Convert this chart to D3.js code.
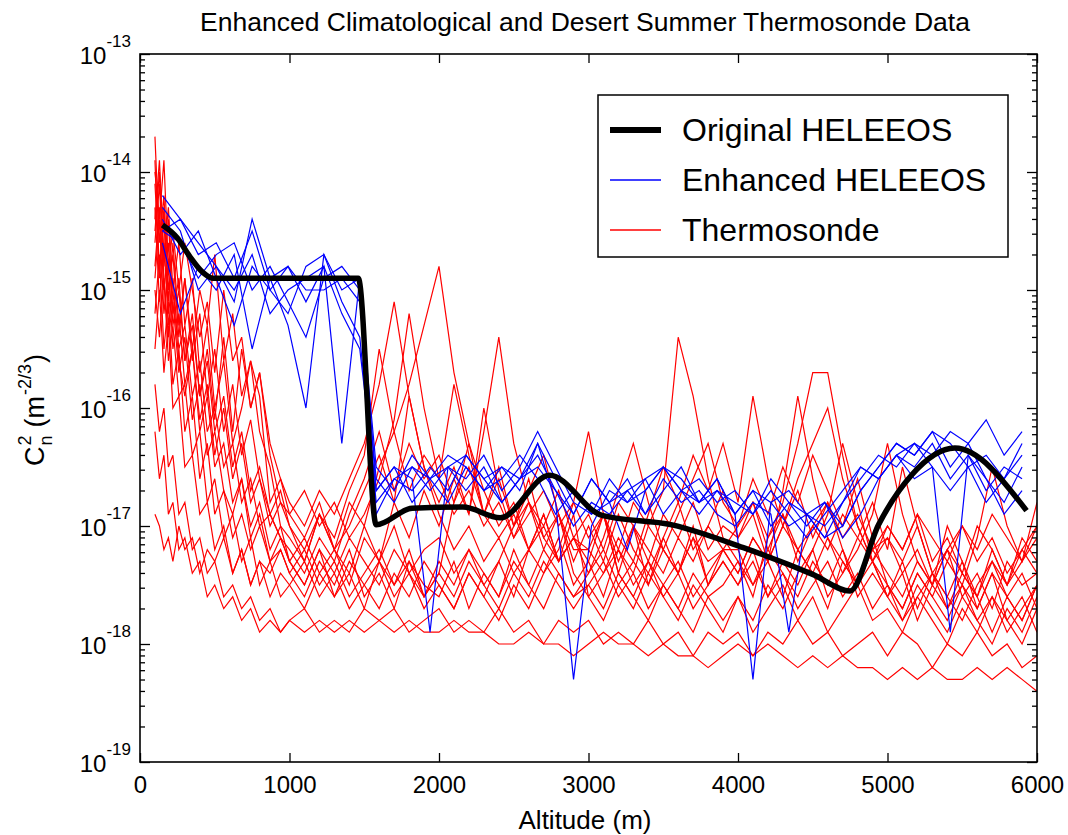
<!DOCTYPE html>
<html>
<head>
<meta charset="utf-8">
<script src="https://cdn.jsdelivr.net/npm/d3@7"></script>
<style>
  html, body { margin: 0; padding: 0; background: #ffffff; }
  svg { display: block; font-family: "Liberation Sans", Arial, sans-serif; }
</style>
</head>
<body>
<svg id="chart" width="1068" height="835"></svg>
<script>
// ---------------- DATA ----------------
const chartTitle = "Enhanced Climatological and Desert Summer Thermosonde Data";
const xTicks = [0, 1000, 2000, 3000, 4000, 5000, 6000];
const yExponents = [-19, -18, -17, -16, -15, -14, -13];
const legendLabels = ["Original HELEEOS", "Enhanced HELEEOS", "Thermosonde"];

// Original HELEEOS (altitude m, log10 Cn2)
const originalAlt = [150, 250, 330, 420, 490, 1460, 1580, 1820, 2160, 2410, 2740, 3090, 3560, 4050, 4500, 4750, 4940, 5160, 5450, 5930];
const originalLog = [-14.45, -14.56, -14.71, -14.85, -14.90, -14.90, -16.99, -16.85, -16.84, -16.93, -16.57, -16.91, -16.99, -17.19, -17.41, -17.55, -16.99, -16.57, -16.34, -16.87];

// Enhanced HELEEOS profiles (log10 Cn2)
const enhancedAlt = [150,270,390,510,630,750,870,990,1110,1230,1350,1470,1580,1700,1820,1940,2060,2180,2300,2420,2540,2660,2780,2900,3020,3140,3260,3380,3500,3620,3740,3860,3980,4100,4220,4340,4460,4580,4700,4820,4940,5060,5180,5300,5420,5540,5660,5780,5900];
const enhanced1 = [-14.2,-14.4,-14.6,-14.8,-15.1,-14.4,-14.9,-15.3,-16.0,-14.7,-15.0,-14.9,
  -16.7,-16.5,-16.6,-17.9,-16.5,-16.4,-16.6,-16.5,-16.7,-16.3,-16.6,-16.9,-16.6,-16.8,-16.7,-16.6,-16.5,-16.7,-16.8,-16.6,-16.9,-16.7,-16.8,-17.0,-16.9,-17.1,-17.0,-16.7,-16.5,-16.3,-16.4,-16.2,-16.3,-16.5,-16.4,-16.6,-16.3];
const enhanced2 = [-14.5,-14.4,-14.7,-14.6,-14.9,-14.5,-15.0,-14.8,-15.1,-14.8,-16.3,-14.9,
  -16.9,-16.6,-16.5,-16.6,-16.4,-16.5,-16.7,-16.5,-16.6,-16.3,-16.8,-18.3,-17.0,-16.7,-16.8,-16.6,-16.9,-16.7,-16.6,-16.8,-16.7,-16.9,-16.6,-16.8,-17.0,-16.8,-17.1,-16.9,-16.6,-16.4,-16.5,-16.3,-16.6,-16.4,-16.7,-16.5,-16.6];
const enhanced3 = [-14.6,-15.2,-14.8,-15.0,-14.7,-15.5,-14.9,-14.8,-15.0,-15.0,-14.9,-15.1,
  -16.6,-16.8,-16.5,-16.7,-16.5,-16.6,-16.4,-16.7,-16.5,-16.2,-16.5,-16.8,-16.9,-16.6,-16.8,-16.7,-16.5,-16.6,-16.8,-16.7,-16.9,-18.3,-16.8,-16.7,-16.9,-16.8,-17.0,-16.7,-16.5,-16.3,-16.4,-16.2,-16.5,-16.3,-16.6,-16.8,-16.5];
const enhanced4 = [-14.4,-14.7,-14.5,-14.9,-15.3,-14.8,-15.0,-15.2,-14.8,-14.7,-15.1,-15.4,
  -16.8,-16.6,-16.7,-16.5,-16.7,-16.4,-16.6,-16.8,-16.6,-16.4,-16.7,-17.0,-16.8,-16.9,-16.7,-16.9,-16.6,-16.8,-16.7,-16.9,-17.0,-16.8,-16.9,-17.9,-16.9,-17.1,-16.8,-16.6,-16.4,-16.5,-16.3,-16.4,-16.2,-16.3,-16.1,-16.4,-16.2];
const enhanced5 = [-14.5,-14.6,-14.9,-14.7,-14.6,-15.0,-14.8,-15.1,-15.4,-14.9,-14.8,-15.0,
  -16.5,-16.7,-16.4,-16.6,-16.8,-16.5,-16.7,-16.6,-16.4,-16.6,-16.9,-16.7,-16.9,-16.8,-16.6,-16.9,-16.7,-16.5,-16.8,-16.6,-16.9,-16.7,-17.0,-16.8,-16.9,-17.0,-16.8,-16.5,-16.6,-16.4,-16.3,-16.5,-17.9,-16.4,-16.6,-16.9,-16.7];
const enhanced6 = [-14.3,-14.5,-15.0,-14.8,-15.0,-14.7,-15.2,-15.0,-14.9,-14.8,-15.2,-15.5,
  -16.7,-16.5,-16.8,-16.6,-16.5,-16.7,-16.5,-16.8,-16.6,-16.5,-16.7,-16.9,-16.6,-16.8,-17.2,-16.7,-16.5,-16.7,-16.9,-16.7,-16.8,-16.9,-16.7,-16.9,-17.1,-16.9,-16.7,-16.5,-16.6,-16.4,-16.6,-16.5,-16.7,-16.5,-16.8,-16.6,-16.4];

// Thermosonde profiles (log10 Cn2)
const thermoAlt = [100,130,160,190,220,260,300,350,400,450,500,560,620,680,740,800,870,940,
  1000,1100,1200,1300,1400,1500,1600,1700,1800,1900,
  2000,2100,2200,2300,2400,2500,2600,2700,2800,2900,
  3000,3100,3200,3300,3400,3500,3600,3700,3800,3900,
  4000,4100,4200,4300,4400,4500,4600,4700,4800,4900,
  5000,5100,5200,5300,5400,5500,5600,5700,5800,5900,6000];
const thermo01 = [-13.7,-14.6,-14.2,-15.0,-14.7,-15.4,-14.9,-15.5,-15.0,-15.3,-14.7,-15.6,-15.2,-15.9,-15.6,-16.2,-16.5,-17.0,
  -17.1,-17.3,-16.9,-17.2,-16.8,-17.0,-16.5,-16.2,-15.8,-15.3,
  -14.8,-15.7,-16.3,-16.7,-17.0,-16.8,-17.2,-16.9,-17.3,-17.1,
  -17.3,-16.9,-17.4,-17.0,-17.5,-17.1,-17.4,-17.0,-17.5,-17.2,
  -17.2,-17.5,-17.3,-17.6,-17.2,-17.4,-17.7,-17.3,-17.5,-17.2,
  -17.4,-17.6,-17.3,-17.5,-17.2,-17.6,-17.4,-17.7,-17.3,-17.5,-17.4];
const thermo02 = [-14.0,-14.4,-13.9,-14.8,-14.5,-15.0,-14.6,-15.0,-15.4,-15.1,-15.7,-15.0,-15.6,-15.4,-16.0,-15.7,-16.3,-16.6,
  -16.8,-17.0,-16.7,-16.9,-16.6,-16.3,-15.8,-15.1,-15.9,-16.5,
  -16.8,-16.5,-16.9,-16.2,-15.4,-16.3,-16.8,-17.0,-16.7,-17.1,
  -16.9,-17.2,-16.8,-17.0,-17.3,-16.9,-17.1,-16.8,-17.2,-17.0,
  -17.1,-16.8,-17.2,-16.9,-17.3,-17.0,-17.2,-16.9,-17.1,-17.3,
  -17.0,-17.2,-16.9,-17.3,-17.1,-17.4,-17.0,-17.2,-17.5,-17.1,-17.3];
const thermo03 = [-14.3,-15.1,-14.6,-15.3,-15.0,-15.6,-15.9,-15.5,-16.2,-15.9,-16.5,-16.3,-16.8,-16.6,-17.0,-16.8,-17.2,-17.0,
  -17.3,-17.1,-17.4,-17.2,-17.5,-17.1,-17.3,-17.0,-17.4,-17.2,
  -17.1,-17.4,-17.2,-17.5,-17.3,-17.6,-17.2,-17.4,-17.1,-17.5,
  -17.3,-17.6,-17.2,-17.4,-17.0,-16.7,-15.4,-15.9,-16.6,-17.1,
  -17.3,-17.5,-17.2,-17.4,-17.6,-17.3,-17.5,-17.2,-17.6,-17.4,
  -17.6,-17.3,-17.7,-17.4,-17.6,-17.8,-17.5,-17.3,-17.6,-17.4,-17.7];
const thermo04 = [-14.6,-14.1,-14.9,-15.4,-15.1,-15.7,-15.4,-16.1,-15.8,-16.4,-16.2,-16.7,-16.9,-16.6,-17.1,-16.9,-17.3,-17.2,
  -17.4,-17.6,-17.3,-17.5,-17.2,-17.6,-17.4,-17.7,-17.3,-17.5,
  -17.6,-17.3,-17.7,-17.4,-17.6,-17.2,-17.5,-17.7,-17.4,-17.6,
  -17.5,-17.7,-17.4,-17.6,-17.3,-17.5,-17.7,-17.4,-17.6,-17.5,
  -17.3,-17.6,-17.1,-16.8,-16.3,-15.7,-15.7,-16.4,-17.0,-17.3,
  -17.5,-17.7,-17.4,-17.6,-17.8,-17.5,-17.7,-17.4,-17.8,-17.6,-17.9];
const thermo05 = [-14.9,-14.4,-15.2,-14.8,-15.5,-15.2,-15.8,-15.5,-16.1,-15.8,-16.4,-16.0,-16.6,-16.3,-16.8,-16.6,-17.0,-16.8,
  -17.0,-17.2,-16.9,-17.1,-16.7,-16.4,-15.5,-16.2,-16.7,-16.4,
  -16.6,-15.8,-16.4,-16.9,-17.1,-16.9,-17.2,-17.0,-17.3,-17.1,
  -17.2,-16.9,-17.3,-17.0,-17.2,-17.4,-17.1,-17.3,-17.0,-17.2,
  -17.4,-17.1,-17.3,-17.0,-17.2,-17.4,-17.1,-17.3,-17.5,-17.2,
  -17.1,-17.3,-17.0,-17.4,-17.2,-17.0,-17.3,-17.1,-17.4,-17.2,-17.0];
const thermo06 = [-15.2,-14.7,-15.5,-15.1,-15.8,-15.5,-16.2,-15.9,-16.6,-16.3,-16.9,-16.7,-17.1,-16.9,-17.2,-17.0,-17.3,-17.1,
  -17.3,-17.5,-17.2,-17.4,-17.1,-17.3,-17.5,-17.2,-17.4,-17.6,
  -17.3,-17.5,-17.2,-17.4,-17.6,-17.3,-17.5,-17.2,-17.4,-17.6,
  -17.4,-17.2,-17.5,-17.3,-16.9,-16.5,-16.8,-16.4,-16.7,-16.3,
  -16.8,-15.9,-16.6,-17.0,-16.7,-17.1,-16.8,-17.2,-17.5,-17.3,
  -17.6,-17.4,-17.8,-17.5,-17.7,-17.4,-17.6,-17.9,-17.6,-17.8,-17.5];
const thermo07 = [-15.5,-15.0,-15.7,-15.3,-16.0,-15.9,-16.5,-16.4,-16.9,-16.8,-17.2,-17.0,-17.4,-17.2,-17.5,-17.3,-17.6,-17.4,
  -17.5,-17.7,-17.4,-17.6,-17.3,-17.5,-17.7,-17.4,-17.6,-17.3,
  -17.5,-17.7,-17.4,-17.6,-17.8,-17.5,-17.7,-17.4,-17.2,-16.8,
  -16.2,-16.9,-17.4,-17.6,-17.8,-17.5,-17.7,-17.9,-17.6,-17.8,
  -17.6,-17.9,-17.7,-17.5,-17.8,-17.6,-17.9,-17.7,-17.5,-17.8,
  -17.7,-17.9,-17.6,-17.8,-18.0,-17.7,-17.9,-17.6,-17.8,-18.0,-17.7];
const thermo08 = [-15.8,-16.2,-16.0,-16.5,-16.4,-16.9,-16.8,-17.2,-17.1,-17.4,-17.3,-17.6,-17.5,-17.7,-17.6,-17.8,-17.7,-17.9,
  -17.8,-17.9,-17.8,-17.9,-17.8,-17.9,-17.8,-17.9,-17.8,-17.9,
  -17.9,-17.8,-17.9,-17.9,-18.0,-18.0,-17.9,-18.0,-18.0,-18.1,
  -18.0,-17.9,-18.0,-18.0,-18.1,-18.0,-18.1,-18.1,-18.2,-18.1,
  -18.0,-18.1,-18.0,-18.1,-18.2,-18.1,-18.2,-18.1,-18.2,-18.2,
  -18.3,-18.2,-18.3,-18.2,-18.3,-18.3,-18.2,-18.3,-18.2,-18.3,-18.4];
const thermo09 = [-14.1,-14.8,-14.4,-15.2,-14.9,-15.5,-15.3,-15.9,-15.6,-16.2,-16.0,-16.5,-16.3,-16.8,-16.6,-17.0,-16.9,-17.1,
  -17.2,-17.4,-17.1,-17.3,-16.9,-16.6,-16.2,-16.7,-16.3,-16.6,
  -16.4,-16.8,-16.5,-16.9,-16.6,-17.0,-16.8,-17.1,-16.9,-17.2,
  -17.2,-17.4,-17.1,-17.3,-17.5,-17.2,-17.4,-17.1,-17.3,-17.2,
  -17.4,-17.1,-17.3,-16.7,-15.9,-16.6,-17.1,-17.4,-17.2,-16.9,
  -16.3,-16.9,-17.3,-17.5,-17.2,-17.4,-17.6,-17.3,-17.5,-17.2,-17.4];
const thermo10 = [-14.5,-14.0,-14.8,-14.4,-15.2,-14.9,-15.6,-15.3,-15.9,-15.6,-16.2,-15.9,-16.5,-16.2,-16.7,-16.5,-16.9,-17.1,
  -17.3,-17.5,-17.2,-17.6,-17.4,-17.7,-17.3,-17.5,-17.2,-17.6,
  -17.4,-17.6,-17.3,-17.5,-17.7,-17.4,-17.6,-17.3,-17.5,-17.7,
  -17.5,-17.3,-17.6,-17.4,-17.7,-17.5,-17.3,-17.6,-17.4,-17.2,
  -17.0,-16.6,-16.9,-16.5,-16.8,-16.4,-16.7,-17.0,-16.6,-17.1,
  -17.5,-17.7,-17.4,-17.6,-17.3,-17.5,-17.1,-16.5,-17.0,-17.3,-16.8];
const thermo11 = [-16.2,-16.6,-16.4,-16.9,-16.8,-17.2,-17.1,-17.4,-17.3,-17.6,-17.5,-17.7,-17.6,-17.8,-17.7,-17.9,-17.8,-17.9,
  -17.8,-17.7,-17.9,-17.8,-17.9,-17.7,-17.8,-17.7,-17.9,-17.8,
  -17.7,-17.9,-17.8,-17.9,-17.7,-17.9,-17.8,-18.0,-17.8,-17.9,
  -17.8,-18.0,-17.9,-18.0,-17.8,-18.0,-17.9,-18.1,-17.9,-18.0,
  -17.9,-18.1,-17.9,-18.0,-17.8,-18.0,-17.9,-18.1,-18.0,-17.9,
  -18.1,-17.9,-18.0,-18.2,-18.0,-18.1,-17.9,-18.1,-18.0,-18.2,-18.1];
const thermo12 = [-14.8,-14.3,-15.0,-14.6,-15.3,-15.0,-15.6,-15.2,-15.9,-15.5,-16.1,-15.4,-16.2,-15.5,-16.0,-15.7,-16.4,-16.8,
  -16.9,-16.7,-17.0,-16.8,-17.1,-16.9,-16.6,-16.1,-15.2,-16.0,
  -16.6,-16.9,-16.7,-17.0,-16.8,-17.1,-16.9,-16.7,-17.0,-16.8,
  -17.1,-16.9,-17.2,-16.8,-17.0,-17.2,-16.9,-16.6,-16.3,-16.8,
  -17.0,-16.8,-17.1,-16.9,-17.2,-17.0,-16.8,-17.1,-16.9,-17.2,
  -17.0,-17.2,-16.9,-17.1,-17.3,-17.0,-17.2,-16.9,-17.1,-17.3,-17.0];
const thermo13 = [-16.9,-17.0,-17.2,-17.1,-17.3,-17.0,-17.2,-17.1,-17.4,-17.2,-17.3,-17.1,-17.4,-17.2,-17.5,-17.3,-17.4,-17.2,
  -17.4,-17.2,-17.5,-17.3,-17.6,-17.4,-17.2,-17.5,-17.3,-17.6,
  -17.4,-16.8,-16.3,-16.9,-16.5,-17.0,-16.6,-17.1,-17.3,-16.9,
  -17.6,-17.4,-17.2,-17.5,-17.3,-17.6,-17.4,-17.7,-17.5,-17.3,
  -17.5,-17.3,-17.6,-17.4,-17.7,-17.5,-17.3,-17.6,-17.4,-17.7,
  -17.5,-17.8,-17.6,-17.4,-17.7,-17.5,-17.8,-17.6,-17.9,-17.7,-17.5];
const thermo14 = [-15.0,-15.4,-14.9,-15.6,-15.3,-15.9,-15.8,-16.4,-16.2,-16.8,-16.6,-17.1,-16.9,-17.3,-17.1,-17.5,-17.3,-17.6,
  -17.5,-17.3,-17.6,-17.4,-17.7,-17.5,-17.3,-17.6,-17.4,-17.7,
  -17.5,-17.7,-17.4,-17.6,-17.3,-17.0,-16.7,-16.4,-16.9,-17.4,
  -17.6,-17.8,-17.5,-17.7,-17.4,-17.6,-17.8,-17.5,-17.7,-17.9,
  -17.6,-17.8,-17.5,-17.7,-17.4,-17.2,-16.9,-16.3,-16.8,-17.3,
  -17.6,-17.8,-17.5,-17.7,-17.9,-17.6,-17.8,-18.0,-17.7,-17.9,-17.6];
const thermo15 = [-13.9,-14.9,-14.3,-15.1,-14.6,-15.3,-14.9,-15.6,-15.2,-15.9,-15.5,-16.2,-15.8,-16.4,-16.1,-16.6,-16.9,-16.7,
  -17.0,-17.3,-16.9,-17.2,-17.4,-17.0,-17.3,-16.8,-17.1,-16.7,
  -17.0,-16.6,-16.9,-16.0,-16.7,-17.1,-16.8,-17.2,-16.9,-17.3,
  -17.0,-17.3,-16.9,-17.2,-17.4,-17.1,-16.8,-17.2,-17.0,-16.7,
  -17.1,-16.9,-17.3,-17.0,-16.6,-16.3,-16.0,-16.6,-17.0,-17.3,
  -17.1,-17.4,-17.2,-17.5,-17.0,-17.3,-17.6,-17.2,-17.5,-17.3,-17.1];
const thermo16 = [-14.4,-13.9,-14.7,-14.3,-15.0,-14.6,-15.3,-14.9,-15.7,-15.3,-16.0,-15.6,-16.3,-16.0,-15.6,-15.9,-16.8,-16.6,
  -16.9,-17.1,-16.8,-17.2,-17.0,-16.7,-16.4,-16.8,-15.9,-16.5,
  -16.9,-17.2,-17.0,-17.3,-17.1,-17.4,-17.2,-16.9,-17.3,-17.1,
  -17.4,-17.1,-16.7,-16.3,-16.8,-17.2,-17.4,-17.1,-17.5,-17.3,
  -17.5,-17.2,-17.6,-17.3,-17.5,-17.2,-17.6,-17.4,-17.1,-16.8,
  -17.2,-16.5,-17.0,-17.4,-17.6,-17.3,-17.7,-17.4,-17.6,-17.8,-17.5];

const enhancedSeries = [enhanced1, enhanced2, enhanced3, enhanced4, enhanced5, enhanced6];
const thermoSeries = [thermo01, thermo02, thermo03, thermo04, thermo05, thermo06, thermo07, thermo08,
                      thermo09, thermo10, thermo11, thermo12, thermo13, thermo14, thermo15, thermo16];

// ---------------- CHART ----------------
const svg = d3.select("#chart");
const P = { left: 140, right: 1037, top: 54, bottom: 762 };

svg.append("rect").attr("width", 1068).attr("height", 835).attr("fill", "#ffffff");

const x = d3.scaleLinear().domain([0, 6000]).range([P.left, P.right]);
const y = d3.scaleLog().domain([1e-19, 1e-13]).range([P.bottom, P.top]);

svg.append("defs").append("clipPath").attr("id", "plotClip")
  .append("rect").attr("x", P.left).attr("y", P.top)
  .attr("width", P.right - P.left).attr("height", P.bottom - P.top);

const plot = svg.append("g").attr("clip-path", "url(#plotClip)");

const toPoints = (alts, logs) => alts.map((a, i) => [a, Math.pow(10, logs[i])]);
const line = d3.line().x(d => x(d[0])).y(d => y(d[1]));
const smoothLine = d3.line().x(d => x(d[0])).y(d => y(d[1])).curve(d3.curveMonotoneX);

plot.selectAll("path.thermo").data(thermoSeries).enter().append("path")
  .attr("class", "thermo")
  .attr("d", s => line(toPoints(thermoAlt, s)))
  .attr("fill", "none").attr("stroke", "#ff0000").attr("stroke-width", 1.2)
  .attr("stroke-linejoin", "miter");

plot.selectAll("path.enh").data(enhancedSeries).enter().append("path")
  .attr("class", "enh")
  .attr("d", s => line(toPoints(enhancedAlt, s)))
  .attr("fill", "none").attr("stroke", "#0000ff").attr("stroke-width", 1.2);

plot.append("path")
  .attr("d", smoothLine(toPoints(originalAlt, originalLog)))
  .attr("fill", "none").attr("stroke", "#000000").attr("stroke-width", 5.5)
  .attr("stroke-linejoin", "round");

// ---------------- AXES ----------------
const majorVals = yExponents.map(e => Math.pow(10, e));
const minorVals = [];
yExponents.slice(0, -1).forEach(e => {
  for (let m = 2; m <= 9; m++) minorVals.push(m * Math.pow(10, e));
});

function styleAxis(g) {
  g.selectAll("path.domain").remove();
  g.selectAll("line").attr("stroke", "#000").attr("stroke-width", 1.3);
}

const xAxisB = svg.append("g").attr("transform", `translate(0,${P.bottom})`)
  .call(d3.axisBottom(x).tickValues(xTicks).tickSize(-9).tickPadding(14).tickFormat(d3.format("d")));
styleAxis(xAxisB);
xAxisB.selectAll("text").attr("font-size", 24).attr("fill", "#000")
  .attr("font-family", "Liberation Sans, Arial, sans-serif");
const xAxisT = svg.append("g").attr("transform", `translate(0,${P.top})`)
  .call(d3.axisTop(x).tickValues(xTicks).tickSize(-9).tickFormat(""));
styleAxis(xAxisT);
const yAxisL = svg.append("g").attr("transform", `translate(${P.left},0)`)
  .call(d3.axisLeft(y).tickValues(majorVals).tickSize(-10).tickFormat(""));
styleAxis(yAxisL);
const yAxisLm = svg.append("g").attr("transform", `translate(${P.left},0)`)
  .call(d3.axisLeft(y).tickValues(minorVals).tickSize(-5).tickFormat(""));
styleAxis(yAxisLm);
const yAxisR = svg.append("g").attr("transform", `translate(${P.right},0)`)
  .call(d3.axisRight(y).tickValues(majorVals).tickSize(-10).tickFormat(""));
styleAxis(yAxisR);
const yAxisRm = svg.append("g").attr("transform", `translate(${P.right},0)`)
  .call(d3.axisRight(y).tickValues(minorVals).tickSize(-5).tickFormat(""));
styleAxis(yAxisRm);

svg.append("rect").attr("x", P.left).attr("y", P.top)
  .attr("width", P.right - P.left).attr("height", P.bottom - P.top)
  .attr("fill", "none").attr("stroke", "#000").attr("stroke-width", 1.6);

// y tick labels 10^e
const yLab = svg.append("g");
yExponents.forEach(e => {
  const t = yLab.append("text")
    .attr("x", 131).attr("y", y(Math.pow(10, e)) + 10)
    .attr("text-anchor", "end").attr("fill", "#000");
  t.append("tspan").attr("font-size", 24).text("10");
  t.append("tspan").attr("font-size", 17).attr("dy", -17).text(String(e));
});

// title
svg.append("text").attr("x", 585).attr("y", 31).attr("text-anchor", "middle")
  .attr("font-size", 26.5).attr("fill", "#000").text(chartTitle);

// x label
svg.append("text").attr("x", 585).attr("y", 829).attr("text-anchor", "middle")
  .attr("font-size", 26).attr("fill", "#000").text("Altitude (m)");

// y label: C_n^2 (m^-2/3)
const yl = svg.append("g").attr("transform", "translate(44,410) rotate(-90)");
const c = yl.append("text").attr("font-size", 27).attr("fill", "#000").text("C");
const cw = c.node().getComputedTextLength();
const sup2 = yl.append("text").attr("font-size", 18).attr("fill", "#000").attr("x", cw + 1).attr("y", -13).text("2");
const subn = yl.append("text").attr("font-size", 18).attr("fill", "#000").attr("x", cw + 1).attr("y", 8).text("n");
const w2 = Math.max(sup2.node().getComputedTextLength(), subn.node().getComputedTextLength());
const gap = 8;
const pm = yl.append("text").attr("font-size", 27).attr("fill", "#000").attr("x", cw + w2 + 1 + gap).text("(m");
const pmw = pm.node().getComputedTextLength();
const supE = yl.append("text").attr("font-size", 18).attr("fill", "#000").attr("x", cw + w2 + 1 + gap + pmw + 1).attr("y", -13).text("-2/3");
const sew = supE.node().getComputedTextLength();
const cp = yl.append("text").attr("font-size", 27).attr("fill", "#000").attr("x", cw + w2 + 1 + gap + pmw + sew + 2).text(")");
const total = cw + w2 + 1 + gap + pmw + sew + 2 + cp.node().getComputedTextLength();
yl.selectAll("text").attr("transform", `translate(${-total / 2},0)`);

// legend
const lg = svg.append("g");
lg.append("rect").attr("x", 598).attr("y", 95).attr("width", 410).attr("height", 162)
  .attr("fill", "#fff").attr("stroke", "#000").attr("stroke-width", 1.5);
const legendColors = ["#000000", "#0000ff", "#ff0000"];
const legendWidths = [6, 1.5, 1.5];
legendLabels.forEach((lab, i) => {
  const yy = 130 + i * 50;
  lg.append("line").attr("x1", 610).attr("x2", 661).attr("y1", yy).attr("y2", yy)
    .attr("stroke", legendColors[i]).attr("stroke-width", legendWidths[i]);
  lg.append("text").attr("x", 682).attr("y", yy + 11).attr("font-size", 32)
    .attr("fill", "#000").text(lab);
});
</script>
</body>
</html>
